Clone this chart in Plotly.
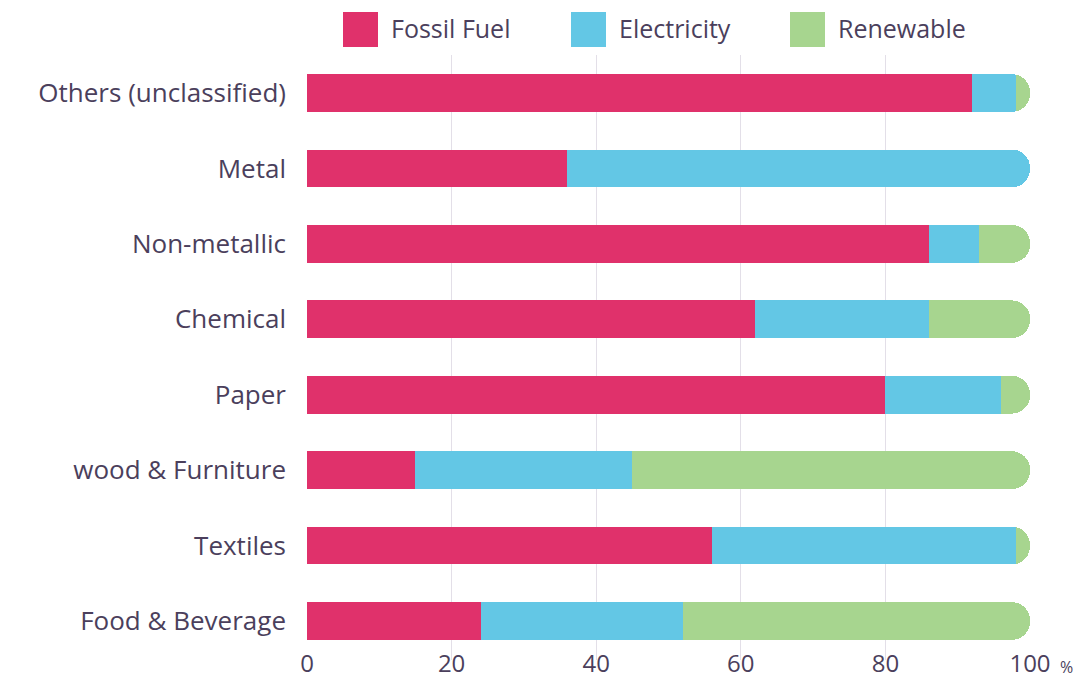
import plotly.graph_objects as go

categories = ["Food & Beverage", "Textiles", "wood & Furniture", "Paper",
              "Chemical", "Non-metallic", "Metal", "Others (unclassified)"]
fossil = [24, 56, 15, 80, 62, 86, 36, 92]
electricity = [28, 42, 30, 16, 24, 7, 64, 6]
renewable = [48, 2, 55, 4, 14, 7, 0, 2]
x_ticks = [0, 20, 40, 60, 80, 100]
series_names = ["Fossil Fuel", "Electricity", "Renewable"]
colors = ["#E0316B", "#63C7E5", "#A7D58F"]

FONT = "Open Sans"
TXT = "#4B3F5C"

fig = go.Figure()
for name, vals, col in zip(series_names, [fossil, electricity, renewable], colors):
    fig.add_trace(go.Bar(
        y=categories, x=vals, name=name, orientation="h",
        marker=dict(color=col, line=dict(width=0), cornerradius="50%"),
        showlegend=False,
    ))

# legend drawn as squares + labels at the top
leg_x = [343, 571, 790]
W, H = 1088, 683
ml, mr, mt, mb = 307, 58, 55, 23
pw = W - ml - mr
ph = H - mt - mb
shapes = []
annotations = []
for lx, name, col in zip(leg_x, series_names, colors):
    x0 = (lx - ml) / pw
    x1 = (lx + 35 - ml) / pw
    y0 = 1 + (mt - 47) / ph
    y1 = 1 + (mt - 12) / ph
    shapes.append(dict(type="rect", xref="paper", yref="paper", x0=x0, x1=x1,
                       y0=y0, y1=y1, fillcolor=col, line=dict(width=0), layer="above"))
    annotations.append(dict(xref="paper", yref="paper", x=(lx + 46 - ml) / pw,
                            y=1 + (mt - 28) / ph, text=name, showarrow=False,
                            xanchor="left", yanchor="middle",
                            font=dict(family=FONT, size=25, color=TXT)))
annotations.append(dict(xref="paper", yref="paper", x=(1058 - ml) / pw,
                        y=-(667 - (H - mb)) / ph, text="%", showarrow=False,
                        xanchor="left", yanchor="middle",
                        font=dict(family=FONT, size=16, color=TXT)))

fig.update_layout(
    barmode="stack",
    bargap=0.5,
    width=W, height=H,
    margin=dict(l=ml, r=mr, t=mt, b=mb, autoexpand=False),
    paper_bgcolor="white", plot_bgcolor="white",
    font=dict(family=FONT, color=TXT, size=25),
    shapes=shapes,
    annotations=annotations,
    xaxis=dict(range=[0, 100], tickvals=x_ticks, ticktext=[str(v) for v in x_ticks],
               showgrid=True, gridcolor="#E3DFE8", gridwidth=1, zeroline=False,
               showline=False, ticks="", tickfont=dict(size=24, color=TXT),
               fixedrange=True, automargin=False, ticklabelstandoff=-13),
    yaxis=dict(categoryorder="array", categoryarray=categories,
               range=[-0.517, 7.504], showgrid=False, zeroline=False, showline=False,
               ticks="", ticklabelstandoff=20, tickfont=dict(size=26, color=TXT),
               automargin=False),
)

fig.write_html("out.html")
